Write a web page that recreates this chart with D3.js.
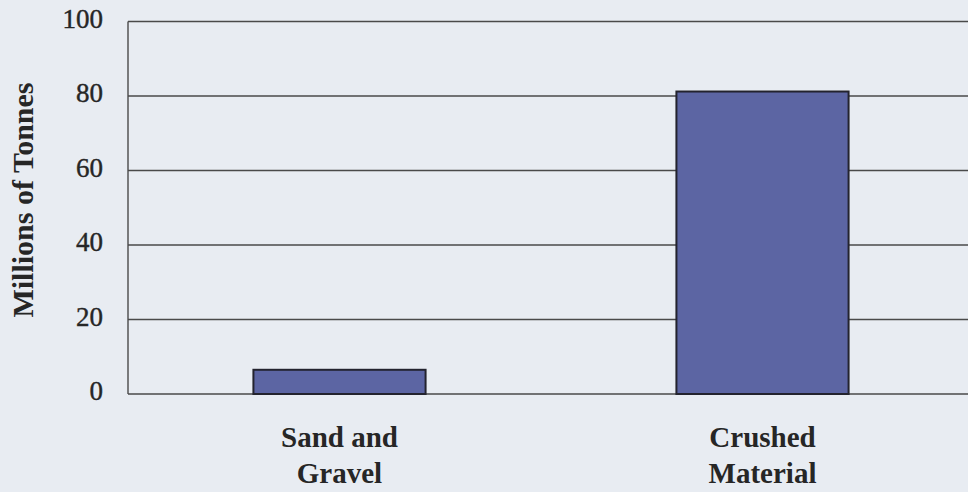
<!DOCTYPE html>
<html>
<head>
<meta charset="utf-8">
<script src="https://cdn.jsdelivr.net/npm/d3@7"></script>
<style>
  html, body { margin: 0; padding: 0; background: #e8ecf2; }
  svg { display: block; }
  text { font-family: "Liberation Serif", "Times New Roman", serif; fill: #262626; }
</style>
</head>
<body>
<svg id="chart" width="968" height="492"></svg>
<script>
// Aggregate production by type (millions of tonnes)
const categories = [["Sand and", "Gravel"], ["Crushed", "Material"]];
const values = [6.5, 81.2];
const yTicks = [0, 20, 40, 60, 80, 100];
const yTitle = "Millions of Tonnes";

const W = 968, H = 492;
const plot = { left: 128, right: 974, top: 21.5, bottom: 394 };

const svg = d3.select("#chart");

const keys = categories.map(c => c.join(" "));
const x = d3.scaleBand()
  .domain(keys)
  .range([plot.left, plot.right])
  .paddingInner(0.593)
  .paddingOuter(0.593 / 2);

const y = d3.scaleLinear().domain([0, 100]).range([plot.bottom, plot.top]);

// horizontal gridlines
svg.append("g")
  .selectAll("line")
  .data(yTicks)
  .join("line")
  .attr("x1", plot.left)
  .attr("x2", W)
  .attr("y1", d => y(d))
  .attr("y2", d => y(d))
  .attr("stroke", "#4a4a4a")
  .attr("stroke-width", 1.4);

// vertical axis line
svg.append("line")
  .attr("x1", plot.left).attr("x2", plot.left)
  .attr("y1", y(100)).attr("y2", y(0))
  .attr("stroke", "#4a4a4a")
  .attr("stroke-width", 1.4);

// bars
svg.append("g")
  .selectAll("rect")
  .data(values)
  .join("rect")
  .attr("x", (d, i) => x(keys[i]))
  .attr("width", x.bandwidth())
  .attr("y", d => y(d))
  .attr("height", d => y(0) - y(d))
  .attr("fill", "#5c65a3")
  .attr("stroke", "#23232e")
  .attr("stroke-width", 2);

// y tick labels
const yAxis = d3.axisLeft(y).tickValues(yTicks).tickSize(0).tickPadding(0);
const gy = svg.append("g")
  .attr("transform", `translate(${plot.left - 25},0)`)
  .call(yAxis);
gy.select(".domain").remove();
gy.selectAll("text")
  .attr("font-family", "Liberation Serif, Times New Roman, serif")
  .attr("font-size", 27)
  .attr("fill", "#262626")
  .attr("stroke", "#262626")
  .attr("stroke-width", 0.4)
  .attr("dy", "0.22em");

// y title
svg.append("text")
  .attr("transform", `translate(33,${(82 + 318) / 2}) rotate(-90)`)
  .attr("text-anchor", "middle")
  .attr("font-size", 30)
  .attr("font-weight", "bold")
  .text(yTitle);

// category labels
const catG = svg.append("g")
  .selectAll("text")
  .data(categories)
  .join("text")
  .attr("x", (d, i) => x(keys[i]) + x.bandwidth() / 2)
  .attr("text-anchor", "middle")
  .attr("font-size", 29)
  .attr("font-weight", "bold");
catG.selectAll("tspan")
  .data(d => d)
  .join("tspan")
  .attr("x", function () { return d3.select(this.parentNode).attr("x"); })
  .attr("y", (d, j) => 447 + j * 36)
  .text(d => d);
</script>
</body>
</html>
